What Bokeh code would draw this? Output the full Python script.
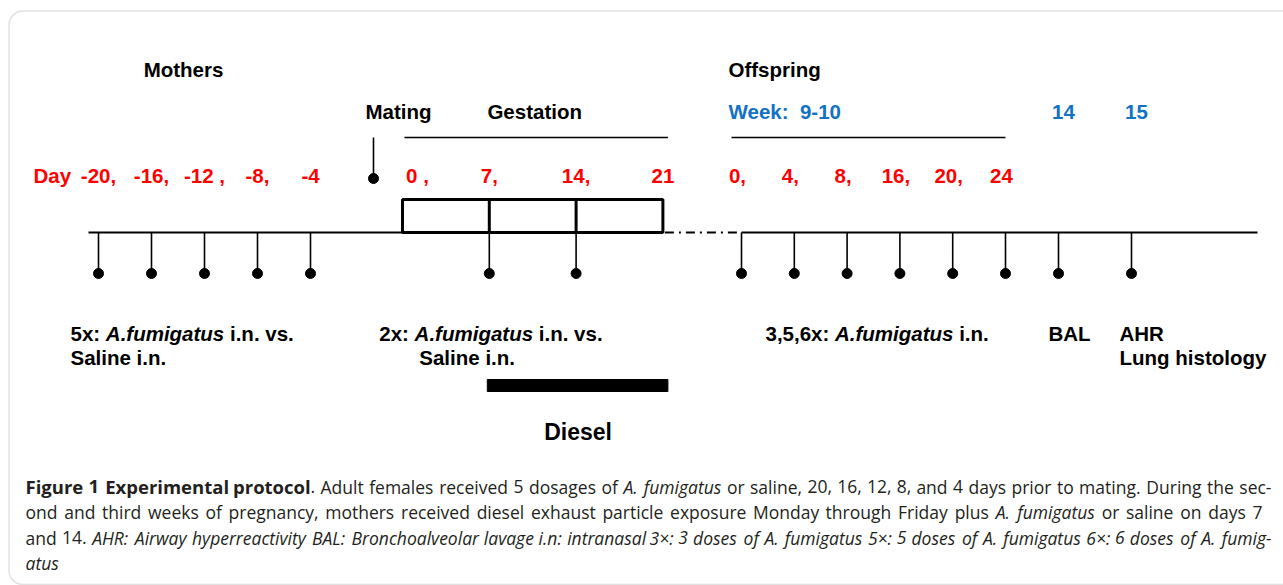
from bokeh.plotting import figure
from bokeh.models import Range1d, BoxAnnotation
from bokeh.core.properties import value
from bokeh.embed import file_html
from bokeh.resources import INLINE

# ------------------------------------------------------------------ data
mother_days = [-20, -16, -12, -8, -4]
mother_day_labels = ["-20,", "-16,", "-12 ,", "-8,", "-4"]
gestation_days = [0, 7, 14, 21]
gestation_day_labels = ["0 ,", "7,", "14,", "21"]
gestation_challenge_days = [7, 14]
diesel_days = [7, 21]
offspring_days = [0, 4, 8, 16, 20, 24]
offspring_day_labels = ["0,", "4,", "8,", "16,", "20,", "24"]
offspring_weeks = [14, 15]
offspring_week_labels = ["14", "15"]
week_start_label = "Week:\u00a0 9-10"

mother_label = [("5x: ", "bold"), ("A.fumigatus", "bold italic"), (" i.n. vs.", "bold")]
gest_label = [("2x: ", "bold"), ("A.fumigatus", "bold italic"), (" i.n. vs.", "bold")]
offspring_label = [("3,5,6x: ", "bold"), ("A.fumigatus", "bold italic"), (" i.n.", "bold")]
saline_label = "Saline i.n."
week14_label = "BAL"
week15_labels = ["AHR", "Lung histology"]

caption_lines = [
    [("Figure 1 Experimental protocol", "bold"),
     (". Adult females received 5 dosages of ", "normal"),
     ("A. fumigatus", "italic"),
     (" or saline, 20, 16, 12, 8, and 4 days prior to mating. During the sec-", "normal")],
    [("ond and third weeks of pregnancy, mothers received diesel exhaust particle exposure Monday through Friday plus ", "normal"),
     ("A. fumigatus", "italic"),
     (" or saline on days 7", "normal")],
    [("and 14. ", "normal"),
     ("AHR: Airway hyperreactivity BAL: Bronchoalveolar lavage i.n: intranasal 3\u00d7: 3 doses of A. fumigatus "
      "5\u00d7: 5 doses of A. fumigatus 6\u00d7: 6 doses of A. fumig-", "italic")],
    [("atus", "italic")],
]

# ------------------------------------------------------------------ layout
def mother_x(d):
    return 310 + (d + 4) * 13.25

def gest_x(d):
    return 402 + d * 12.4

def off_x(i):
    return 741 + i * 52.8

def week_x(w):
    return 1058 + (w - 14) * 73

WIDTH, HEIGHT = 1283, 585
MATING_X = 373
AXIS_LEFT, AXIS_RIGHT = 88, 1257
Y_TITLE, Y_SUB, Y_OVER, Y_DAYS = 69, 111, 137, 175
Y_BOX, Y_AXIS, Y_DOT = 199, 232, 273
Y_L1, Y_L2 = 333, 357
Y_DIESEL = (379, 391)
Y_DIESEL_LAB = 431

CAP_Y = [486, 511.5, 537, 562]
CAP_LEFT = 25
CAP_RIGHT = [1271, 1262, 1271, None]       # None: last line, not justified
CAP_SIZE = {"normal": 17.5, "italic": 17.5, "bold": 18.5}
CAP_FACTOR = {"normal": 1.0, "italic": 0.946, "bold": 1.068}

RED = "#FF0000"
BLUE = "#1272C4"
BLACK = "#000000"
CAP_COLOR = "#231F20"
FONT = "Liberation Sans"
CAP_FONT = "Open Sans"
SIZE = 20.5

# Arial / Liberation Sans bold advance widths (per 1000 em)
W = {" ": 278, ",": 278, "-": 333, ".": 278, ":": 333, "A": 722, "B": 722,
     "H": 722, "L": 611, "R": 722, "S": 667, "a": 556, "f": 333, "g": 611,
     "i": 278, "l": 278, "m": 889, "n": 611, "s": 556, "t": 333, "u": 611,
     "v": 556, "x": 556, "e": 556}

# approximate Open Sans regular advance widths (per 1000 em)
OS = {" ": 260, ".": 267, ",": 245, ":": 267, "-": 322, "\u00d7": 572,
      "A": 633, "B": 648, "D": 718, "E": 556, "F": 522, "H": 738, "M": 884, "R": 617, "L": 519,
      "a": 556, "b": 613, "c": 480, "d": 613, "e": 561, "f": 339, "g": 548, "h": 615,
      "i": 258, "k": 525, "l": 258, "m": 935, "n": 615, "o": 601, "p": 613, "r": 408,
      "s": 477, "t": 353, "u": 615, "v": 500, "w": 774, "x": 520, "y": 500, "z": 464}
for dgt in "0123456789":
    OS[dgt] = 572


def tw(s, size):
    return sum(W.get(c, 556) for c in s) * size / 1000.0


def cap_w(s, st):
    return sum(OS.get(c, 556) for c in s) * CAP_SIZE[st] * CAP_FACTOR[st] / 1000.0


p = figure(width=WIDTH, height=HEIGHT, output_backend="svg", toolbar_location=None,
           x_range=Range1d(0, WIDTH), y_range=Range1d(HEIGHT, 0),
           x_axis_location=None, y_axis_location=None, min_border=0,
           outline_line_color=None, background_fill_color="white",
           border_fill_color="white")
p.grid.visible = False

# frame
p.add_layout(BoxAnnotation(left=8.5, right=1400, top=10.5, bottom=584, fill_color=None,
                           line_color="#9C9C9C", line_width=1.5, border_radius=14))


def txt(x, y, s, color=BLACK, style="bold", size=SIZE, align="left", font=FONT):
    p.text(x=[x], y=[y], text=[s], text_font=value(font), text_font_style=style,
           text_font_size=value(f"{size}px"), text_color=color,
           text_baseline="alphabetic", text_align=align)


def runs(x, y, parts, size=SIZE):
    for s, st in parts:
        stripped = s.lstrip(" ")
        x += tw(s[:len(s) - len(stripped)], size)
        txt(x, y, stripped, style=st, size=size)
        x += tw(stripped, size)


# ---- headings
txt((mother_x(mother_days[0]) + mother_x(mother_days[-1])) / 2 - 21, Y_TITLE, "Mothers", align="center")
txt(off_x(0) - 13, Y_TITLE, "Offspring")
txt(MATING_X + 25, Y_SUB, "Mating", align="center")
txt((gest_x(gestation_days[0]) + gest_x(gestation_days[-1])) / 2 + 2, Y_SUB, "Gestation", align="center")
txt(off_x(0) - 13, Y_SUB, week_start_label, color=BLUE)
for w, lab in zip(offspring_weeks, offspring_week_labels):
    txt(week_x(w) + 5, Y_SUB, lab, color=BLUE, align="center")

# over-lines
p.segment(x0=[gest_x(0) + 2, off_x(0) - 10], x1=[gest_x(21) + 5, off_x(5)],
          y0=[Y_OVER, Y_OVER], y1=[Y_OVER, Y_OVER], line_color=BLACK, line_width=1.6)

# ---- red day labels
txt(33, Y_DAYS, "Day", color=RED)
p.text(x=[mother_x(d) for d in mother_days], y=[Y_DAYS] * len(mother_days),
       text=mother_day_labels, text_font=value(FONT), text_font_style="bold",
       text_font_size=value(f"{SIZE}px"), text_color=RED,
       text_baseline="alphabetic", text_align="center")
gx = [gest_x(d) for d in gestation_days]
gx[0] += 15
p.text(x=gx, y=[Y_DAYS] * len(gestation_days), text=gestation_day_labels,
       text_font=value(FONT), text_font_style="bold",
       text_font_size=value(f"{SIZE}px"), text_color=RED,
       text_baseline="alphabetic", text_align="center")
p.text(x=[off_x(i) for i in range(len(offspring_days))], y=[Y_DAYS] * len(offspring_days),
       text=offspring_day_labels, text_font=value(FONT), text_font_style="bold",
       text_font_size=value(f"{SIZE}px"), text_color=RED, x_offset=-4,
       text_baseline="alphabetic", text_align="center")

# ---- mating tick (above)
p.segment(x0=[MATING_X], x1=[MATING_X], y0=[Y_OVER], y1=[Y_DAYS + 3], line_color=BLACK, line_width=1.6)
p.scatter(x=[MATING_X], y=[Y_DAYS + 3], size=10, marker="circle", color=BLACK)

# ---- gestation box
p.quad(left=[gest_x(0)], right=[gest_x(21)], top=[Y_BOX], bottom=[Y_AXIS],
       fill_color=None, line_color=BLACK, line_width=3)
p.segment(x0=[gest_x(d) for d in gestation_challenge_days], x1=[gest_x(d) for d in gestation_challenge_days],
          y0=[Y_BOX] * 2, y1=[Y_AXIS] * 2, line_color=BLACK, line_width=3)

# ---- main time axis
p.segment(x0=[AXIS_LEFT, off_x(0)], x1=[gest_x(21), AXIS_RIGHT], y0=[Y_AXIS] * 2, y1=[Y_AXIS] * 2,
          line_color=BLACK, line_width=2.2)
p.segment(x0=[gest_x(21) + 2], x1=[off_x(0)], y0=[Y_AXIS], y1=[Y_AXIS],
          line_color=BLACK, line_width=2, line_dash="9 5 2 5")

# ---- challenge ticks (below)
tick_x = ([mother_x(d) for d in mother_days] + [gest_x(d) for d in gestation_challenge_days]
          + [off_x(i) for i in range(len(offspring_days))] + [week_x(w) for w in offspring_weeks])
p.segment(x0=tick_x, x1=tick_x, y0=[Y_AXIS] * len(tick_x), y1=[Y_DOT] * len(tick_x),
          line_color=BLACK, line_width=1.6)
p.scatter(x=tick_x, y=[Y_DOT] * len(tick_x), size=10, marker="circle", color=BLACK)

# ---- lower labels
runs(mother_x(mother_days[0]) - 28, Y_L1, mother_label)
txt(mother_x(mother_days[0]) - 28, Y_L2, saline_label)
runs(gest_x(gestation_challenge_days[0]) - 110, Y_L1, gest_label)
txt(gest_x(gestation_challenge_days[0]) - 70, Y_L2, saline_label)
runs(off_x(0) + 24, Y_L1, offspring_label)
txt(week_x(14) - 10, Y_L1, week14_label)
txt(week_x(15) - 12, Y_L1, week15_labels[0])
txt(week_x(15) - 12, Y_L2, week15_labels[1])

# ---- diesel exposure bar
p.quad(left=[gest_x(diesel_days[0]) - 2], right=[gest_x(diesel_days[1]) + 5],
       top=[Y_DIESEL[0]], bottom=[Y_DIESEL[1]], color=BLACK)
txt((gest_x(diesel_days[0]) + gest_x(diesel_days[1])) / 2 + 2, Y_DIESEL_LAB, "Diesel", size=23, align="center")

# ---- caption: word-level justification
batches = {}
for li, segs in enumerate(caption_lines):
    words, cur = [], None
    for text, st in segs:
        for j, part in enumerate(text.split(" ")):
            if j > 0:
                cur = None
            if part:
                if cur is None:
                    cur = []
                    words.append(cur)
                cur.append((part, st))
    widths = [sum(cap_w(s, st) for s, st in wd) for wd in words]
    right = CAP_RIGHT[li]
    if right is not None and len(words) > 1:
        gap = (right - CAP_LEFT - sum(widths)) / (len(words) - 1)
    else:
        gap = cap_w(" ", "normal")
    x = CAP_LEFT
    for k, (wd, wdw) in enumerate(zip(words, widths)):
        last = right is not None and k == len(words) - 1 and len(wd) == 1
        px = x
        for s, st in wd:
            b = batches.setdefault((st, "right" if last else "left"), {"x": [], "y": [], "text": []})
            b["x"].append(right if last else px)
            b["y"].append(CAP_Y[li])
            b["text"].append(s)
            px += cap_w(s, st)
        x += wdw + gap

for (st, al), b in batches.items():
    p.text(x=b["x"], y=b["y"], text=b["text"], text_font=value(CAP_FONT), text_font_style=st,
           text_font_size=value(f"{CAP_SIZE[st]}px"), text_color=CAP_COLOR,
           text_baseline="alphabetic", text_align=al)

open("out.html", "w").write(file_html(p, INLINE))
